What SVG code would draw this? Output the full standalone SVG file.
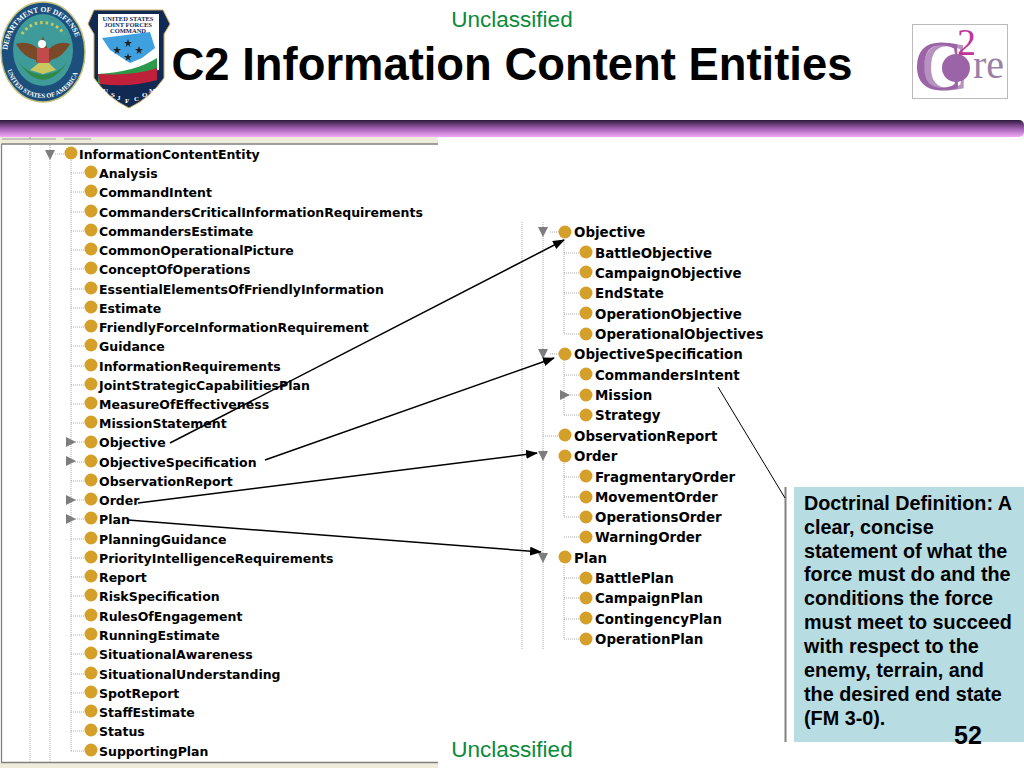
<svg xmlns="http://www.w3.org/2000/svg" xmlns:xlink="http://www.w3.org/1999/xlink" width="1024" height="768" viewBox="0 0 1024 768">
<style>
.t{font-family:"DejaVu Sans",sans-serif;font-weight:700;font-size:12.5px;fill:#000}
.r{font-size:13.4px}
.g{font-family:"Liberation Sans",Arial,sans-serif;font-size:22.500px;fill:#0a8a3a;text-anchor:middle}
.d{font-family:"Liberation Sans",Arial,sans-serif;font-weight:700;font-size:19.800px;fill:#000}
.dot{stroke:#aaa;stroke-width:1;stroke-dasharray:1 1;fill:none}
.c{fill:#d4a02a}
.tri{fill:#7d7d7d}
.l{stroke:#000;fill:none;stroke-width:1.500}
.lg{font-family:"Liberation Serif",serif;font-weight:700;fill:#fff}
.n{font-family:"Liberation Serif",serif;font-weight:700;font-size:6.500px;fill:#102a54;text-anchor:middle}
</style>
<defs>
<linearGradient id="bar" x1="0" y1="0" x2="0" y2="1"><stop offset="0" stop-color="#2e1a3c"/><stop offset="0.5" stop-color="#a060b0"/><stop offset="1" stop-color="#f2a8f8"/></linearGradient>
<marker id="a" markerUnits="userSpaceOnUse" markerWidth="12" markerHeight="9" refX="11" refY="4.500" orient="auto"><path d="M0 0L12 4.500L0 9z" fill="#000"/></marker>
<path id="sealTop" d="M7 56A36 44 0 0 1 79 56"/>
<path id="sealBot" d="M6 60A37 38 0 0 0 80 60"/>
</defs>
<rect width="1024" height="768" fill="#fff"/>
<g id="header">
<text class="g" x="512" y="27">Unclassified</text>
<text x="512" y="80" text-anchor="middle" font-family="Liberation Sans,Arial,sans-serif" font-weight="700" font-size="45.400" fill="#000">C2 Information Content Entities</text>
<rect x="-6" y="120" width="1030" height="17" rx="5" fill="url(#bar)"/>
</g>
<g id="seal">
<ellipse cx="43" cy="52" rx="42" ry="50" fill="#1d4f7c" stroke="#c9c27a" stroke-width="1.500"/>
<ellipse cx="43" cy="50" rx="30" ry="36" fill="#3f9a9a"/>
<path d="M19 62Q28 78 43 80Q58 78 67 62Q60 73 43 75Q26 73 19 62Z" fill="#2f8a4a"/>
<path d="M16 44Q30 40 39 50L43 36L48 50Q58 40 70 44Q62 58 51 60L50 62H36L36 60Q24 58 16 44Z" fill="#7a4a28"/>
<path d="M30 70L40 62H48L56 70L43 74Z" fill="#c8c860"/>
<rect x="37" y="48" width="12" height="15" fill="#c24a4a"/>
<circle cx="42" cy="44" r="4" fill="#fff"/>
<path d="M22 34A26 28 0 0 1 64 34" fill="none" stroke="#c8c860" stroke-width="3" stroke-dasharray="2.500 3"/>
<text class="lg" font-size="7.500"><textPath xlink:href="#sealTop" startOffset="6">DEPARTMENT OF DEFENSE</textPath></text>
<text class="lg" font-size="6.500"><textPath xlink:href="#sealBot" startOffset="10">UNITED STATES OF AMERICA</textPath></text>
</g>
<g id="jfcom">
<path d="M94 10H163L170 24L164 34V78Q150 98 129 108Q108 98 94 78V34L88 24Z" fill="#102a54" stroke="#c9a860"/>
<path d="M98 14H159V70Q130 72 98 78Z" fill="#fff"/>
<path d="M102 38L150 32L155 48L142 58L130 63L110 50Z" fill="#3fa0e0"/>
<path d="M98 74Q135 72 157 58V72Q130 80 98 84Z" fill="#2a9a4a"/>
<path d="M98 74Q135 76 157 68V80Q130 88 100 84Z" fill="#c0203a"/>
<text class="n" x="128" y="21">UNITED STATES</text>
<text class="n" x="128" y="27">JOINT FORCES</text>
<text class="n" x="128" y="33">COMMAND</text>
<path d="M128 39l1 3h3l-2.500 2 1 3-2.500-2-2.500 2 1-3-2.500-2h3zM117 46l1 3h3l-2.500 2 1 3-2.500-2-2.500 2 1-3-2.500-2h3zM139 46l1 3h3l-2.500 2 1 3-2.500-2-2.500 2 1-3-2.500-2h3zM128 53l1 3h3l-2.500 2 1 3-2.500-2-2.500 2 1-3-2.500-2h3z" fill="#222"/>
<text class="lg" font-size="7" x="103 111 117 125 134 142 149" y="93 97 100 103 101 97 93">USJFCOM</text>
</g>
<g id="c2re">
<rect x="912.500" y="24.500" width="95" height="74" fill="#fff" stroke="#bbb"/>
<text x="914" y="90" font-family="Liberation Serif,serif" font-size="72" fill="#9a64a6">C</text>
<text x="921" y="90" font-family="Liberation Serif,serif" font-size="70" fill="#9a64a6" opacity=".7">C</text>
<circle cx="956" cy="68" r="14" fill="#9a64a6"/>
<text x="957" y="55" font-family="Liberation Serif,serif" font-size="38" fill="#c0359a">2</text>
<text x="973" y="78" font-family="Liberation Serif,serif" font-size="40" fill="#9a80a6">re</text>
</g>
<g id="tree-left">
<rect x="0" y="137" width="438" height="7" fill="#f0ecdc"/>
<rect x="0" y="763" width="438" height="5" fill="#f0ecdc"/>
<path d="M1.500 144V762.500H438M1.500 144H438" fill="none" stroke="#808080" stroke-width="1.300"/>
<path d="M2 139H56M30 137V139M64 139H91" fill="none" stroke="#999"/>
<path class="dot" d="M30 145V762M50 145V762M71 160V751M55 154H66"/>
<path class="dot" d="M71 173H86M71 192H86M71 212H86M71 231H86M71 250H86M71 269H86M71 289H86M71 308H86M71 327H86M71 346H86M71 366H86M71 385H86M71 404H86M71 423H86M71 442H86M71 462H86M71 481H86M71 500H86M71 519H86M71 539H86M71 558H86M71 577H86M71 596H86M71 616H86M71 635H86M71 654H86M71 674H86M71 693H86M71 712H86M71 731H86M71 751H86"/>
<path class="tri" d="M45 150H55L50 160ZM66 437L76 442L66 447ZM66 456L76 461L66 466ZM66 495L76 500L66 505ZM66 514L76 519L66 524Z"/>
<g class="c"><circle cx="71" cy="153" r="6.500"/><circle cx="91" cy="172" r="6.500"/><circle cx="91" cy="191" r="6.500"/><circle cx="91" cy="211" r="6.500"/><circle cx="91" cy="230" r="6.500"/><circle cx="91" cy="249" r="6.500"/><circle cx="91" cy="268" r="6.500"/><circle cx="91" cy="288" r="6.500"/><circle cx="91" cy="307" r="6.500"/><circle cx="91" cy="326" r="6.500"/><circle cx="91" cy="345" r="6.500"/><circle cx="91" cy="365" r="6.500"/><circle cx="91" cy="384" r="6.500"/><circle cx="91" cy="403" r="6.500"/><circle cx="91" cy="422" r="6.500"/><circle cx="91" cy="442" r="6.500"/><circle cx="91" cy="461" r="6.500"/><circle cx="91" cy="480" r="6.500"/><circle cx="91" cy="499" r="6.500"/><circle cx="91" cy="518" r="6.500"/><circle cx="91" cy="538" r="6.500"/><circle cx="91" cy="557" r="6.500"/><circle cx="91" cy="576" r="6.500"/><circle cx="91" cy="595" r="6.500"/><circle cx="91" cy="615" r="6.500"/><circle cx="91" cy="634" r="6.500"/><circle cx="91" cy="653" r="6.500"/><circle cx="91" cy="673" r="6.500"/><circle cx="91" cy="692" r="6.500"/><circle cx="91" cy="711" r="6.500"/><circle cx="91" cy="730" r="6.500"/><circle cx="91" cy="750" r="6.500"/></g>
<g class="t">
<text x="79" y="159">InformationContentEntity</text>
<text x="99" y="178">Analysis</text>
<text x="99" y="197">CommandIntent</text>
<text x="99" y="217">CommandersCriticalInformationRequirements</text>
<text x="99" y="236">CommandersEstimate</text>
<text x="99" y="255">CommonOperationalPicture</text>
<text x="99" y="274">ConceptOfOperations</text>
<text x="99" y="294">EssentialElementsOfFriendlyInformation</text>
<text x="99" y="313">Estimate</text>
<text x="99" y="332">FriendlyForceInformationRequirement</text>
<text x="99" y="351">Guidance</text>
<text x="99" y="371">InformationRequirements</text>
<text x="99" y="390">JointStrategicCapabilitiesPlan</text>
<text x="99" y="409">MeasureOfEffectiveness</text>
<text x="99" y="428">MissionStatement</text>
<text x="99" y="447">Objective</text>
<text x="99" y="467">ObjectiveSpecification</text>
<text x="99" y="486">ObservationReport</text>
<text x="99" y="505">Order</text>
<text x="99" y="524">Plan</text>
<text x="99" y="544">PlanningGuidance</text>
<text x="99" y="563">PriorityIntelligenceRequirements</text>
<text x="99" y="582">Report</text>
<text x="99" y="601">RiskSpecification</text>
<text x="99" y="621">RulesOfEngagement</text>
<text x="99" y="640">RunningEstimate</text>
<text x="99" y="659">SituationalAwareness</text>
<text x="99" y="679">SituationalUnderstanding</text>
<text x="99" y="698">SpotReport</text>
<text x="99" y="717">StaffEstimate</text>
<text x="99" y="736">Status</text>
<text x="99" y="756">SupportingPlan</text>
</g>
</g>
<g id="tree-right">
<path class="dot" d="M522 222V650M543 222V650M564 240V334M564 360V415M564 463V517M564 565V639M550 232H560M550 354H560"/>
<path class="dot" d="M564 253H580M564 273H580M564 293H580M564 314H580M564 334H580M564 375H580M564 395H580M564 415H580M543 436H558M564 477H580M564 497H580M564 517H580M564 537H580M564 578H580M564 598H580M564 619H580M564 639H580"/>
<path class="tri" d="M538 227H548L543 237ZM538 349H548L543 359ZM538 451H548L543 461ZM538 553H548L543 563ZM560 390L570 395L560 400Z"/>
<g class="c"><circle cx="565" cy="232" r="6.500"/><circle cx="586" cy="252" r="6.500"/><circle cx="586" cy="272" r="6.500"/><circle cx="586" cy="293" r="6.500"/><circle cx="586" cy="313" r="6.500"/><circle cx="586" cy="334" r="6.500"/><circle cx="565" cy="354" r="6.500"/><circle cx="586" cy="374" r="6.500"/><circle cx="586" cy="395" r="6.500"/><circle cx="586" cy="415" r="6.500"/><circle cx="565" cy="435" r="6.500"/><circle cx="565" cy="456" r="6.500"/><circle cx="586" cy="476" r="6.500"/><circle cx="586" cy="497" r="6.500"/><circle cx="586" cy="517" r="6.500"/><circle cx="586" cy="537" r="6.500"/><circle cx="565" cy="557" r="6.500"/><circle cx="586" cy="578" r="6.500"/><circle cx="586" cy="598" r="6.500"/><circle cx="586" cy="618" r="6.500"/><circle cx="586" cy="639" r="6.500"/></g>
<g class="t r">
<text x="574" y="237">Objective</text>
<text x="595" y="258">BattleObjective</text>
<text x="595" y="278">CampaignObjective</text>
<text x="595" y="298">EndState</text>
<text x="595" y="319">OperationObjective</text>
<text x="595" y="339">OperationalObjectives</text>
<text x="574" y="359">ObjectiveSpecification</text>
<text x="595" y="380">CommandersIntent</text>
<text x="595" y="400">Mission</text>
<text x="595" y="420">Strategy</text>
<text x="574" y="441">ObservationReport</text>
<text x="574" y="461">Order</text>
<text x="595" y="482">FragmentaryOrder</text>
<text x="595" y="502">MovementOrder</text>
<text x="595" y="522">OperationsOrder</text>
<text x="595" y="542">WarningOrder</text>
<text x="574" y="563">Plan</text>
<text x="595" y="583">BattlePlan</text>
<text x="595" y="603">CampaignPlan</text>
<text x="595" y="624">ContingencyPlan</text>
<text x="595" y="644">OperationPlan</text>
</g>
</g>
<g id="definition">
<rect x="794" y="487" width="230" height="255" fill="#b7dce2"/>
<rect x="784.500" y="487" width="2" height="255" fill="#808080"/>
<g class="d">
<text x="804" y="510">Doctrinal Definition: A</text>
<text x="804" y="534">clear, concise</text>
<text x="804" y="558">statement of what the</text>
<text x="804" y="581">force must do and the</text>
<text x="804" y="605">conditions the force</text>
<text x="804" y="629">must meet to succeed</text>
<text x="804" y="653">with respect to the</text>
<text x="804" y="677">enemy, terrain, and</text>
<text x="804" y="701">the desired end state</text>
<text x="804" y="725">(FM 3-0).</text>
</g>
</g>
<g id="connectors">
<path class="l" marker-end="url(#a)" d="M170 443L564 240"/>
<path class="l" marker-end="url(#a)" d="M265 460L554 358"/>
<path class="l" marker-end="url(#a)" d="M138 503L537 453"/>
<path class="l" marker-end="url(#a)" d="M128 520L541 552"/>
<path d="M718 387L785 498" fill="none" stroke="#000"/>
</g>
<g id="footer">
<text class="g" x="512" y="757">Unclassified</text>
<text x="954" y="744" font-family="Liberation Sans,Arial,sans-serif" font-weight="700" font-size="25" fill="#000">52</text>
</g>
</svg>
